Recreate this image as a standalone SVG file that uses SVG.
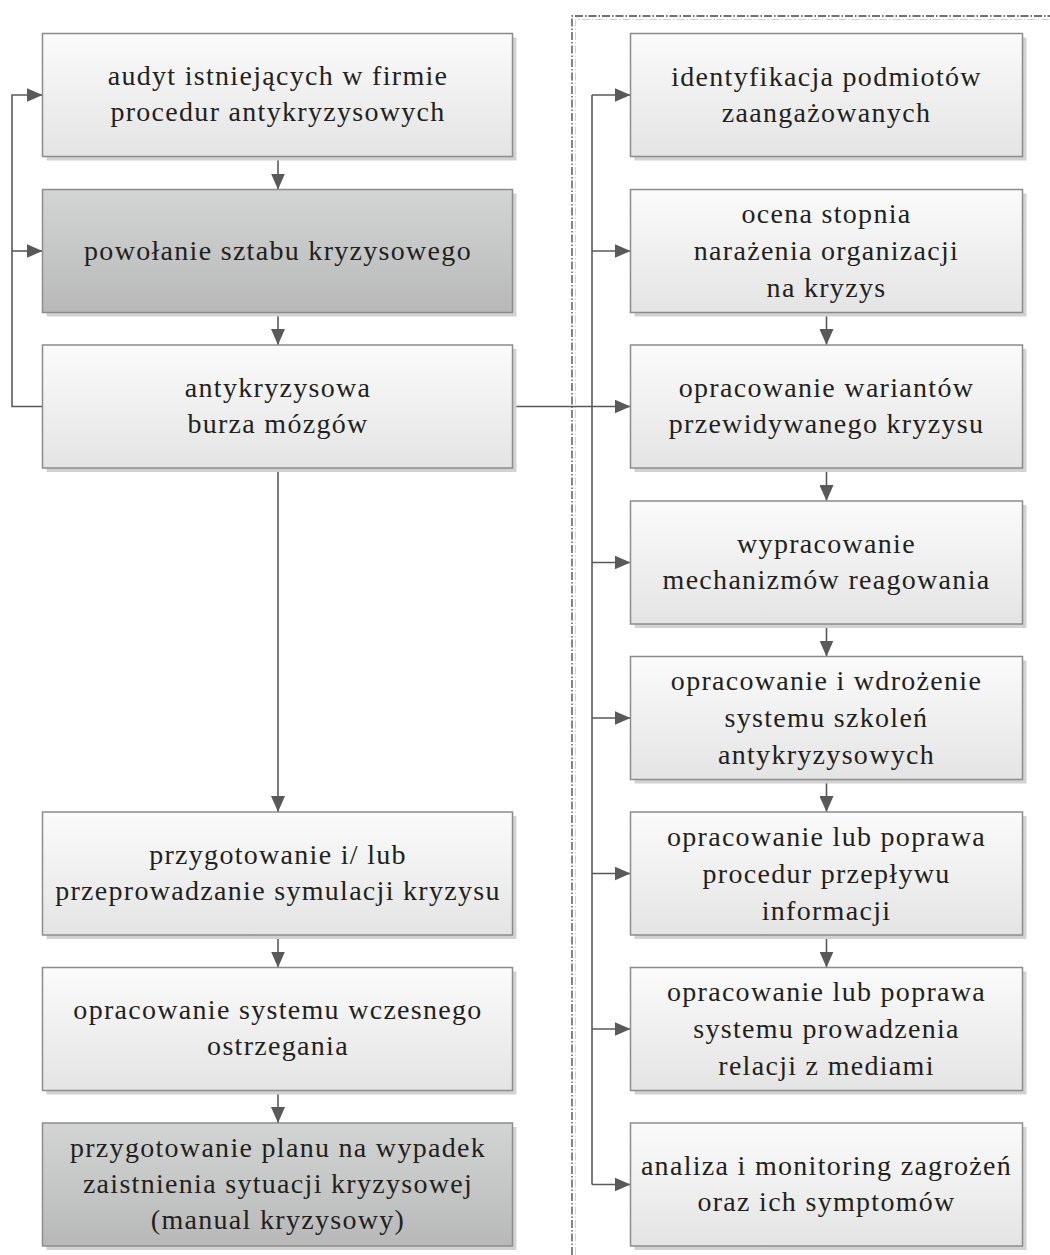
<svg xmlns="http://www.w3.org/2000/svg" width="1050" height="1255" viewBox="0 0 1050 1255">
<style>
.sh{fill:#d2d2d2;stroke:none}
.bx{fill:url(#gl);stroke:#8c8c8c;stroke-width:1.5}
.bd{fill:url(#gd);stroke:#8c8c8c;stroke-width:1.5}
.t{font-family:"Liberation Serif","Times New Roman",serif;font-size:28px;letter-spacing:1.3px;fill:#231f20;text-anchor:middle}
.c{fill:none;stroke:#595959;stroke-width:1.6}
.a{marker-end:url(#ah)}
</style>
<defs>
<linearGradient id="gl" x1="0" y1="0" x2="0" y2="1"><stop offset="0" stop-color="#fbfbfb"/><stop offset="1" stop-color="#e4e4e4"/></linearGradient>
<linearGradient id="gd" x1="0" y1="0" x2="0" y2="1"><stop offset="0" stop-color="#d3d5d5"/><stop offset="1" stop-color="#b8b8b8"/></linearGradient>
<marker id="ah" viewBox="0 0 16 14" refX="16" refY="7" markerWidth="16" markerHeight="14" markerUnits="userSpaceOnUse" orient="auto"><path d="M0,0 L16,7 L0,14 z" fill="#595959"/></marker>
</defs>
<g id="boundary">
<path d="M575.5,1255 V19.5 H1050" fill="none" stroke="#d0d0d0" stroke-width="1" stroke-dasharray="8 2 1.5 2"/>
<path d="M572,1255 V16 H1050" fill="none" stroke="#444" stroke-width="1.3" stroke-dasharray="8 2 1.5 2"/>
</g>
<g id="connectors">
<path class="c a" d="M278,156.5 V189.5"/>
<path class="c a" d="M278,312.5 V345"/>
<path class="c a" d="M278,468 V812"/>
<path class="c a" d="M278,935 V967.5"/>
<path class="c a" d="M278,1090.5 V1123"/>
<path class="c a" d="M42.5,406.5 H12 V95 H42.5"/>
<path class="c a" d="M12,251 H42.5"/>
<path class="c a" d="M512.5,406.5 H630.5"/>
<path class="c" d="M592,95 V1184.5"/>
<path class="c a" d="M592,95 H630.5"/>
<path class="c a" d="M592,251 H630.5"/>
<path class="c a" d="M592,562.5 H630.5"/>
<path class="c a" d="M592,718 H630.5"/>
<path class="c a" d="M592,873.5 H630.5"/>
<path class="c a" d="M592,1029 H630.5"/>
<path class="c a" d="M592,1184.5 H630.5"/>
<path class="c a" d="M826.5,312.5 V345"/>
<path class="c a" d="M826.5,468 V501"/>
<path class="c a" d="M826.5,624 V656.5"/>
<path class="c a" d="M826.5,779.5 V812"/>
<path class="c a" d="M826.5,935 V967.5"/>
</g>
<g id="L1"><rect class="sh" x="46.5" y="37.5" width="470" height="123"/><rect class="bx" x="42.5" y="33.5" width="470" height="123"/>
<text class="t"><tspan x="278" y="85">audyt istniejących w firmie</tspan><tspan x="278" y="121">procedur antykryzysowych</tspan></text></g>
<g id="L2"><rect class="sh" x="46.5" y="193.5" width="470" height="123"/><rect class="bd" x="42.5" y="189.5" width="470" height="123"/>
<text class="t"><tspan x="278" y="260">powołanie sztabu kryzysowego</tspan></text></g>
<g id="L3"><rect class="sh" x="46.5" y="349" width="470" height="123"/><rect class="bx" x="42.5" y="345" width="470" height="123"/>
<text class="t"><tspan x="278" y="397">antykryzysowa</tspan><tspan x="278" y="433">burza mózgów</tspan></text></g>
<g id="L4"><rect class="sh" x="46.5" y="816" width="470" height="123"/><rect class="bx" x="42.5" y="812" width="470" height="123"/>
<text class="t"><tspan x="278" y="864">przygotowanie i/ lub</tspan><tspan x="278" y="900">przeprowadzanie symulacji kryzysu</tspan></text></g>
<g id="L5"><rect class="sh" x="46.5" y="971.5" width="470" height="123"/><rect class="bx" x="42.5" y="967.5" width="470" height="123"/>
<text class="t"><tspan x="278" y="1019">opracowanie systemu wczesnego</tspan><tspan x="278" y="1055">ostrzegania</tspan></text></g>
<g id="L6"><rect class="sh" x="46.5" y="1127" width="470" height="123"/><rect class="bd" x="42.5" y="1123" width="470" height="123"/>
<text class="t"><tspan x="278" y="1157">przygotowanie planu na wypadek</tspan><tspan x="278" y="1193">zaistnienia sytuacji kryzysowej</tspan><tspan x="278" y="1229">(manual kryzysowy)</tspan></text></g>
<g id="R1"><rect class="sh" x="634.5" y="37.5" width="392" height="123"/><rect class="bx" x="630.5" y="33.5" width="392" height="123"/>
<text class="t"><tspan x="826.5" y="86">identyfikacja podmiotów</tspan><tspan x="826.5" y="122">zaangażowanych</tspan></text></g>
<g id="R2"><rect class="sh" x="634.5" y="193.5" width="392" height="123"/><rect class="bx" x="630.5" y="189.5" width="392" height="123"/>
<text class="t"><tspan x="826.5" y="223">ocena stopnia</tspan><tspan x="826.5" y="260">narażenia organizacji</tspan><tspan x="826.5" y="297">na kryzys</tspan></text></g>
<g id="R3"><rect class="sh" x="634.5" y="349" width="392" height="123"/><rect class="bx" x="630.5" y="345" width="392" height="123"/>
<text class="t"><tspan x="826.5" y="397">opracowanie wariantów</tspan><tspan x="826.5" y="433">przewidywanego kryzysu</tspan></text></g>
<g id="R4"><rect class="sh" x="634.5" y="505" width="392" height="123"/><rect class="bx" x="630.5" y="501" width="392" height="123"/>
<text class="t"><tspan x="826.5" y="553">wypracowanie</tspan><tspan x="826.5" y="589">mechanizmów reagowania</tspan></text></g>
<g id="R5"><rect class="sh" x="634.5" y="660.5" width="392" height="123"/><rect class="bx" x="630.5" y="656.5" width="392" height="123"/>
<text class="t"><tspan x="826.5" y="690">opracowanie i wdrożenie</tspan><tspan x="826.5" y="727">systemu szkoleń</tspan><tspan x="826.5" y="764">antykryzysowych</tspan></text></g>
<g id="R6"><rect class="sh" x="634.5" y="816" width="392" height="123"/><rect class="bx" x="630.5" y="812" width="392" height="123"/>
<text class="t"><tspan x="826.5" y="846">opracowanie lub poprawa</tspan><tspan x="826.5" y="883">procedur przepływu</tspan><tspan x="826.5" y="920">informacji</tspan></text></g>
<g id="R7"><rect class="sh" x="634.5" y="971.5" width="392" height="123"/><rect class="bx" x="630.5" y="967.5" width="392" height="123"/>
<text class="t"><tspan x="826.5" y="1001">opracowanie lub poprawa</tspan><tspan x="826.5" y="1038">systemu prowadzenia</tspan><tspan x="826.5" y="1075">relacji z mediami</tspan></text></g>
<g id="R8"><rect class="sh" x="634.5" y="1127" width="392" height="123"/><rect class="bx" x="630.5" y="1123" width="392" height="123"/>
<text class="t"><tspan x="826.5" y="1175">analiza i monitoring zagrożeń</tspan><tspan x="826.5" y="1211">oraz ich symptomów</tspan></text></g>
</svg>
